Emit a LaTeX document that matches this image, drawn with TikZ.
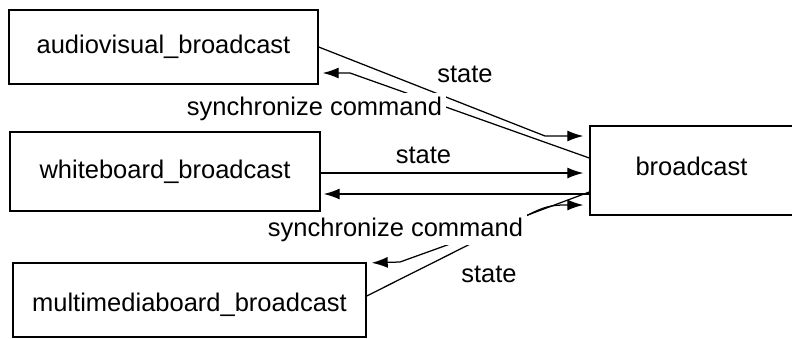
\documentclass[tikz,border=0pt]{standalone}
\usepackage{fontspec}
\setmainfont{Liberation Sans}
\usetikzlibrary{arrows.meta}
\begin{document}
\begin{tikzpicture}[x=1pt,y=-1pt,
  box/.style={draw,line width=1.4pt,inner sep=0pt,font=\fontsize{25.5}{30}\selectfont},
  lbl/.style={fill=white,inner sep=3.5pt,anchor=base,font=\fontsize{25.5}{30}\selectfont},
  conn/.style={line width=1.25pt},
  arr/.style={conn,-{Latex[length=16pt,width=11pt]}}]
\useasboundingbox (0,0) rectangle (792,338);
% boxes
\node[box,minimum width=309pt,minimum height=74pt] (av) at (163.5,47) {audiovisual\_broadcast};
\node[box,minimum width=310pt,minimum height=79pt] (wb) at (165,171.5) {whiteboard\_broadcast};
\node[box,minimum width=353pt,minimum height=74pt,text height=22pt,text depth=0pt] (mm) at (189.5,300) {multimediaboard\_broadcast};
\node[box,minimum width=203pt,minimum height=89pt,text height=18pt,text depth=9pt] (bc) at (691.5,170.5) {broadcast};
% connectors
\draw[arr,shorten >=6pt] (av.east) -- (545,136) -- (bc.west |- 0,136);
\draw[arr,shorten >=4pt] (bc.west |- 0,158) -- (350,73) -- (av.east |- 0,73);
\draw[arr,shorten >=6pt] (wb.east |- 0,173) -- (bc.west |- 0,173);
\draw[arr,shorten >=3pt] (bc.west |- 0,194) -- (wb.east |- 0,194);
\draw[arr,shorten >=6pt] (mm.east |- 0,296) -- (532,213) .. controls (548,205) and (556,205) .. (568,205) -- (bc.west |- 0,205);
\draw[arr,shorten >=5pt] (bc.west |- 0,192) -- (450,244) -- (400,262) -- (mm.east |- 0,263);
% labels
\node[lbl] (l1) at (465,82) {state};
\node[lbl] (l2) at (314.5,115) {synchronize command};
\node[lbl] (l3) at (423.5,163) {state};
\node[lbl] (l4) at (395.5,236) {synchronize command};
\node[lbl] (l5) at (489,282) {state};
\end{tikzpicture}
\end{document}
